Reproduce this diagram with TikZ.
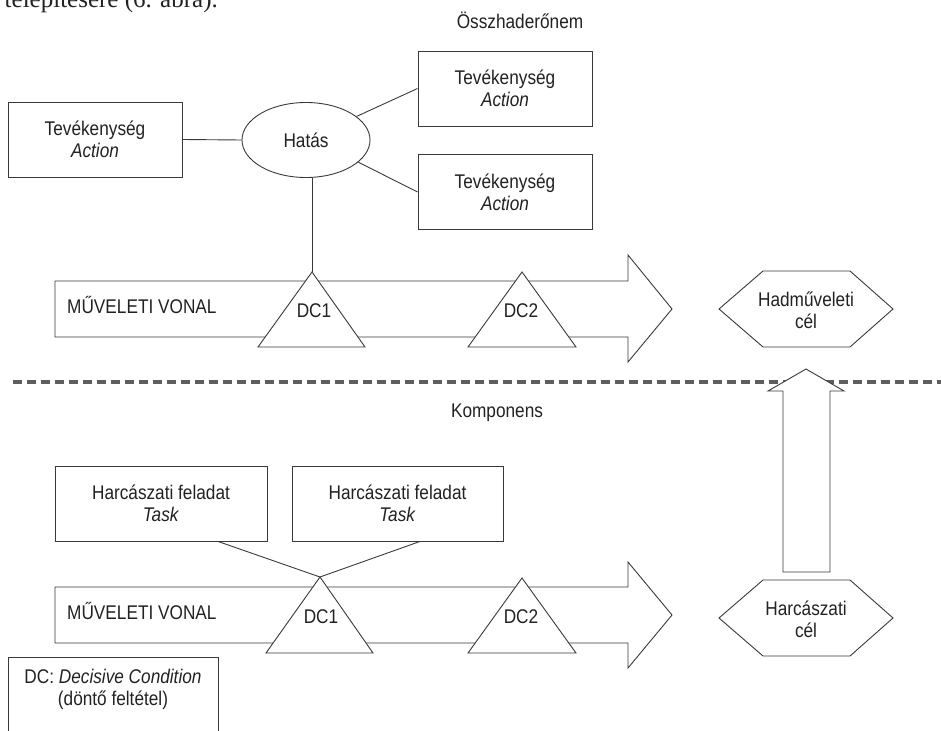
\documentclass[tikz,border=0pt]{standalone}
\usepackage{fontspec}
\setmainfont{Liberation Sans}[FakeStretch=0.87]
\newfontfamily\serifbody{Liberation Serif}
\usetikzlibrary{shapes.geometric}
\definecolor{linec}{HTML}{3A3A3A}
\definecolor{dashc}{HTML}{5E5E5E}
\definecolor{txtc}{HTML}{222222}
\newcommand\dtxt{\fontsize{19.8}{22}\selectfont}
\tikzset{
  lin/.style={draw=linec, line width=0.9pt},
  shp/.style={lin, fill=white, line join=miter},
  box/.style={lin, fill=white, rectangle, minimum height=75pt, inner sep=0pt, align=center, font=\dtxt, text=txtc},
  lbl/.style={font=\dtxt, text=txtc, align=center, inner sep=0pt},
  sepline/.style={draw=dashc, line width=3.2pt, dash pattern=on 9pt off 5pt}
}
\begin{document}
\begin{tikzpicture}[x=1pt,y=-1pt]
\useasboundingbox (0,0) rectangle (941,730);
\clip (0,0) rectangle (941,730);

% clipped body text fragment at top
\node[font=\serifbody\fontsize{25}{25}\selectfont, anchor=base east, inner sep=0pt, text=txtc] (frag) at (218,8) {telepítésére (6. ábra).};

\node[lbl] (osszh) at (520,20) {Összhaderőnem};

% upper part
\node[box, minimum width=174pt] (a0) at (95,139.5) {Tevékenység\\\textit{Action}};
\node[box, minimum width=174pt] (a1) at (505,88.5) {Tevékenység\\\textit{Action}};
\node[box, minimum width=174pt] (a2) at (505,192) {Tevékenység\\\textit{Action}};
\node[ellipse, lin, fill=white, minimum width=128pt, minimum height=75pt, inner sep=0pt, font=\dtxt, text=txtc] (h) at (306,140) {Hatás};

\draw[lin] (a0.east) -- (h.west);
\draw[lin] (h.25) -- (a1.west);
\draw[lin] (h.-23) -- (a2.west);

% upper line of operation
\draw[shp] (55,281) -- (628,281) -- (628,255) -- (672,309) -- (628,362) -- (628,337) -- (55,337) -- cycle;
\node[lbl, anchor=base west] (mv1) at (67,313) {MŰVELETI VONAL};

\coordinate (t1) at (312,272);
\draw[shp] (258,347) -- (t1) -- (365,347) -- cycle;
\node[lbl] (dc1a) at (314,311) {DC1};
\coordinate (t2) at (522,272);
\draw[shp] (468,347) -- (t2) -- (576,347) -- cycle;
\node[lbl] (dc2a) at (521,311) {DC2};

\draw[lin] (t1 |- h.south) -- (t1);

\draw[shp] (719,309) -- (763,271) -- (850,271) -- (893,309) -- (850,347) -- (763,347) -- cycle;
\node[lbl] (hcel) at (806,310) {Hadműveleti\\cél};

% separator
\draw[sepline] (13,382) -- (941,382);

% upward arrow
\draw[shp] (783,572) -- (783,391) -- (768,391) -- (806,369) -- (844,391) -- (830,391) -- (830,572) -- cycle;

\node[lbl] (komp) at (497,413) {Komponens};

% lower part
\node[box, minimum width=212pt] (b1) at (161,503.5) {Harcászati feladat\\\textit{Task}};
\node[box, minimum width=211pt] (b2) at (397.5,503.5) {Harcászati feladat\\\textit{Task}};

\draw[shp] (55,587) -- (628,587) -- (628,562) -- (672,615) -- (628,668) -- (628,643) -- (55,643) -- cycle;
\node[lbl, anchor=base west] (mv2) at (67,619) {MŰVELETI VONAL};

\coordinate (t3) at (320,577);
\draw[shp] (266,653) -- (t3) -- (373,653) -- cycle;
\node[lbl] (dc1b) at (321,617) {DC1};
\coordinate (t4) at (522,578);
\draw[shp] (468,653) -- (t4) -- (576,653) -- cycle;
\node[lbl] (dc2b) at (521,617) {DC2};

\draw[lin] ([xshift=57pt]b1.south) -- (t3);
\draw[lin] ([xshift=22.5pt]b2.south) -- (t3);

\draw[shp] (719,618) -- (763,580) -- (850,580) -- (893,618) -- (850,656) -- (763,656) -- cycle;
\node[lbl] (hcel2) at (806,619) {Harcászati\\cél};

% legend
\draw[lin] (8,740) -- (8,657) -- (218,657) -- (218,740);
\node[lbl] (leg) at (113,689) {DC: \textit{Decisive Condition}\\(döntő feltétel)};
\end{tikzpicture}
\end{document}
